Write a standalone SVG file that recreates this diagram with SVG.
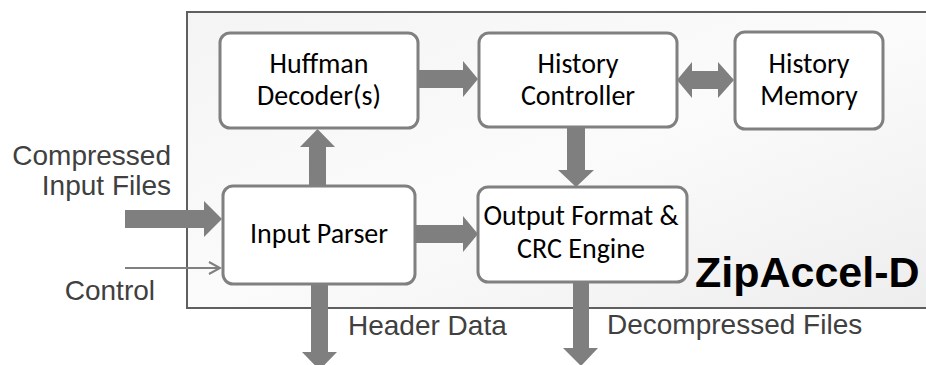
<svg xmlns="http://www.w3.org/2000/svg" width="926" height="365" viewBox="0 0 926 365">
  <style>
    .box { fill: #ffffff; stroke: #808080; stroke-width: 3; }
    .blk { font-family: Carlito, Lato, "Open Sans", sans-serif; font-size: 28px; fill: #000000; text-anchor: middle; }
    .lbl { font-family: "Liberation Sans", Arial, sans-serif; font-size: 28px; fill: #404040; }
    .arw { fill: #7f7f7f; }
  </style>
  <defs>
    <linearGradient id="bg" x1="0" y1="0" x2="1" y2="1">
      <stop offset="0" stop-color="#f4f4f4"/>
      <stop offset="0.5" stop-color="#fbfbfb"/>
      <stop offset="1" stop-color="#ededed"/>
    </linearGradient>
  </defs>
  <rect x="0" y="0" width="926" height="365" fill="#ffffff"/>
  <g id="zipaccel-d">
    <rect x="187" y="12" width="760" height="296" fill="url(#bg)" stroke="#5f5f5f" stroke-width="2"/>
    <text x="695" y="287" style="font-family:'Liberation Sans',Arial,sans-serif;font-size:43px;font-weight:bold;fill:#000">ZipAccel-D</text>
  </g>
  <g id="connectors">
    <polygon class="arw" points="418,70 463,70 463,61 478,79 463,97 463,88 418,88"/>
    <polygon class="arw" points="677,80 692,62 692,71 718,71 718,62 734,80 718,98 718,89 692,89 692,98"/>
    <polygon class="arw" points="567,127 585,127 585,170 594,170 576,187 558,170 567,170"/>
    <polygon class="arw" points="309,185 309,147 300,147 317.5,129 335,147 326,147 326,185"/>
    <polygon class="arw" points="415,225 463,225 463,216 478,234 463,252 463,243 415,243"/>
    <polygon class="arw" points="125,210 204,210 204,201 222,219 204,237 204,228 125,228"/>
    <line x1="125" y1="268" x2="220" y2="268" stroke="#808080" stroke-width="2"/>
    <polyline points="209,262 220,268 209,274" fill="none" stroke="#808080" stroke-width="2"/>
    <polygon class="arw" points="311,284 328,284 328,352 337,352 319.5,370 302,352 311,352"/>
    <polygon class="arw" points="573,282 589,282 589,348 598,348 581,366 563,348 573,348"/>
  </g>
  <g id="huffman-decoders">
    <rect class="box" x="220" y="33" width="198" height="95" rx="10"/>
    <text class="blk" x="319" y="73">Huffman<tspan x="319" y="105">Decoder(s)</tspan></text>
  </g>
  <g id="history-controller">
    <rect class="box" x="479" y="33" width="198" height="94" rx="10"/>
    <text class="blk" x="578" y="73">History<tspan x="578" y="105">Controller</tspan></text>
  </g>
  <g id="history-memory">
    <rect class="box" x="735" y="32" width="148" height="97" rx="10"/>
    <text class="blk" x="809" y="73">History<tspan x="809" y="105">Memory</tspan></text>
  </g>
  <g id="input-parser">
    <rect class="box" x="223" y="186" width="192" height="98" rx="10"/>
    <text class="blk" x="319" y="243">Input Parser</text>
  </g>
  <g id="output-format-crc-engine">
    <rect class="box" x="478" y="187" width="209" height="95" rx="10"/>
    <text class="blk" x="581" y="225">Output Format &amp;<tspan x="581" y="258">CRC Engine</tspan></text>
  </g>
  <g id="labels">
    <text class="lbl" x="171" y="165" text-anchor="end">Compressed<tspan x="171" y="195">Input Files</tspan></text>
    <text class="lbl" x="155" y="300" text-anchor="end">Control</text>
    <text class="lbl" x="348" y="335">Header Data</text>
    <text class="lbl" x="607" y="334">Decompressed Files</text>
  </g>
</svg>
